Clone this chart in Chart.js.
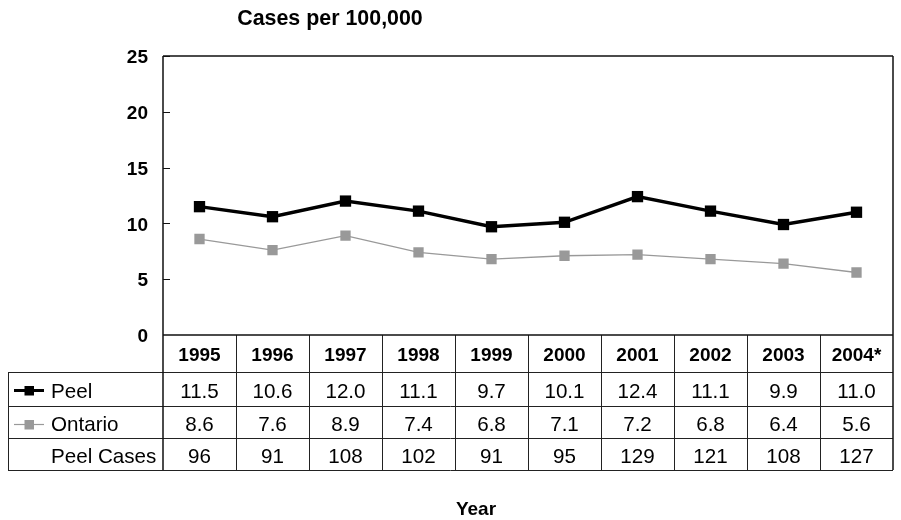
<!DOCTYPE html>
<html>
<head>
<meta charset="utf-8">
<script src="https://cdn.jsdelivr.net/npm/chart.js@4.4.0/dist/chart.umd.min.js"></script>
<style>
  html, body { margin: 0; padding: 0; background: #fff; }
  #wrap { width: 901px; height: 520px; position: relative; }
</style>
</head>
<body>
<div id="wrap"><canvas id="c" width="901" height="520"></canvas></div>
<script>
const years = ['1995','1996','1997','1998','1999','2000','2001','2002','2003','2004*'];
const peelRates = [11.5, 10.6, 12.0, 11.1, 9.7, 10.1, 12.4, 11.1, 9.9, 11.0];
const ontarioRates = [8.6, 7.6, 8.9, 7.4, 6.8, 7.1, 7.2, 6.8, 6.4, 5.6];
const peelCases = [96, 91, 108, 102, 91, 95, 129, 121, 108, 127];
const seriesNames = ['Peel', 'Ontario', 'Peel Cases'];
const yTitle = 'Cases per 100,000';
const xTitle = 'Year';

const FONT = '"Liberation Sans", Arial, Helvetica, sans-serif';
const PEEL_COLOR = '#000000';
const ONT_COLOR = '#999999';

const tablePlugin = {
  id: 'tablePlugin',
  afterDraw(chart) {
    const ctx = chart.ctx;
    const ca = chart.chartArea;
    const xs = chart.scales.x;
    const ys = chart.scales.y;
    const n = years.length;
    const rowLines = [ca.bottom, 372, 406, 438, 470];
    const tableLeft = 8;

    ctx.save();
    const bounds = [ca.left];
    for (let i = 0; i < n - 1; i++) {
      bounds.push((xs.getPixelForValue(i) + xs.getPixelForValue(i + 1)) / 2);
    }
    bounds.push(ca.right);

    // table lines
    ctx.strokeStyle = '#222';
    ctx.lineWidth = 1;
    ctx.beginPath();
    for (let r = 1; r < rowLines.length; r++) {
      ctx.moveTo(tableLeft, Math.round(rowLines[r]) + 0.5);
      ctx.lineTo(ca.right, Math.round(rowLines[r]) + 0.5);
    }
    for (let i = 1; i < bounds.length - 1; i++) {
      const bx = Math.round(bounds[i]) + 0.5;
      ctx.moveTo(bx, ca.bottom);
      ctx.lineTo(bx, rowLines[4]);
    }
    ctx.moveTo(tableLeft + 0.5, rowLines[1]);
    ctx.lineTo(tableLeft + 0.5, rowLines[4]);
    ctx.stroke();

    // plot frame
    ctx.strokeStyle = '#111';
    ctx.lineWidth = 1.5;
    ctx.beginPath();
    ctx.moveTo(ca.left, ca.top);
    ctx.lineTo(ca.right, ca.top);
    ctx.moveTo(ca.left, ca.top);
    ctx.lineTo(ca.left, rowLines[4]);
    ctx.moveTo(ca.right, ca.top);
    ctx.lineTo(ca.right, rowLines[4]);
    ctx.moveTo(ca.left, ca.bottom);
    ctx.lineTo(ca.right, ca.bottom);
    ctx.stroke();

    // inward y ticks
    ctx.lineWidth = 1;
    ctx.beginPath();
    for (let v = 5; v <= 25; v += 5) {
      const py = Math.round(ys.getPixelForValue(v)) + 0.5;
      ctx.moveTo(ca.left, py);
      ctx.lineTo(ca.left + 7, py);
    }
    ctx.stroke();

    // header years
    ctx.fillStyle = '#000';
    ctx.textAlign = 'center';
    ctx.textBaseline = 'middle';
    ctx.font = 'bold 19px ' + FONT;
    for (let i = 0; i < n; i++) {
      ctx.fillText(years[i], xs.getPixelForValue(i), 356);
    }
    // values
    ctx.font = '20.6px ' + FONT;
    const rowY = [392, 425, 457];
    for (let i = 0; i < n; i++) {
      const cx = xs.getPixelForValue(i);
      ctx.fillText(peelRates[i].toFixed(1), cx, rowY[0]);
      ctx.fillText(ontarioRates[i].toFixed(1), cx, rowY[1]);
      ctx.fillText(String(peelCases[i]), cx, rowY[2]);
    }
    // row labels
    ctx.textAlign = 'left';
    ctx.fillText(seriesNames[0], 51, rowY[0]);
    ctx.fillText(seriesNames[1], 51, rowY[1]);
    ctx.fillText(seriesNames[2], 51, rowY[2]);

    // legend keys
    ctx.strokeStyle = PEEL_COLOR;
    ctx.lineWidth = 3;
    ctx.beginPath();
    ctx.moveTo(14, 390.5); ctx.lineTo(44, 390.5);
    ctx.stroke();
    ctx.fillStyle = PEEL_COLOR;
    ctx.fillRect(24.5, 386, 9.5, 9.5);
    ctx.strokeStyle = ONT_COLOR;
    ctx.lineWidth = 1.2;
    ctx.beginPath();
    ctx.moveTo(14, 424.5); ctx.lineTo(44, 424.5);
    ctx.stroke();
    ctx.fillStyle = ONT_COLOR;
    ctx.fillRect(24.5, 420, 9.5, 9.5);

    // titles
    ctx.fillStyle = '#000';
    ctx.textAlign = 'center';
    ctx.font = 'bold 21.4px ' + FONT;
    ctx.fillText(yTitle, 330, 19);
    ctx.font = 'bold 19px ' + FONT;
    ctx.fillText(xTitle, 476, 510);
    ctx.restore();
  }
};

new Chart(document.getElementById('c'), {
  type: 'line',
  data: {
    labels: years,
    datasets: [
      {
        label: seriesNames[0],
        data: peelRates,
        borderColor: PEEL_COLOR,
        backgroundColor: PEEL_COLOR,
        borderWidth: 3.4,
        pointStyle: 'rect',
        pointRadius: 8,
        pointBorderWidth: 0,
        tension: 0
      },
      {
        label: seriesNames[1],
        data: ontarioRates,
        borderColor: ONT_COLOR,
        backgroundColor: ONT_COLOR,
        borderWidth: 1.3,
        pointStyle: 'rect',
        pointRadius: 7.3,
        pointBorderWidth: 0,
        tension: 0
      }
    ]
  },
  options: {
    responsive: false,
    animation: false,
    devicePixelRatio: 1,
    layout: { padding: { left: 0, top: 56, right: 4, bottom: 185 } },
    plugins: { legend: { display: false }, tooltip: { enabled: false }, title: { display: false } },
    scales: {
      x: { type: 'category', offset: true, display: false },
      y: {
        min: 0, max: 25,
        afterFit: (s) => { s.width = 163; },
        grid: { display: false, drawTicks: false },
        border: { display: false },
        ticks: {
          stepSize: 5,
          padding: 15,
          labelOffset: 2,
          color: '#000',
          font: { family: FONT, size: 19, weight: 'bold' }
        }
      }
    }
  },
  plugins: [tablePlugin]
});
</script>
</body>
</html>
